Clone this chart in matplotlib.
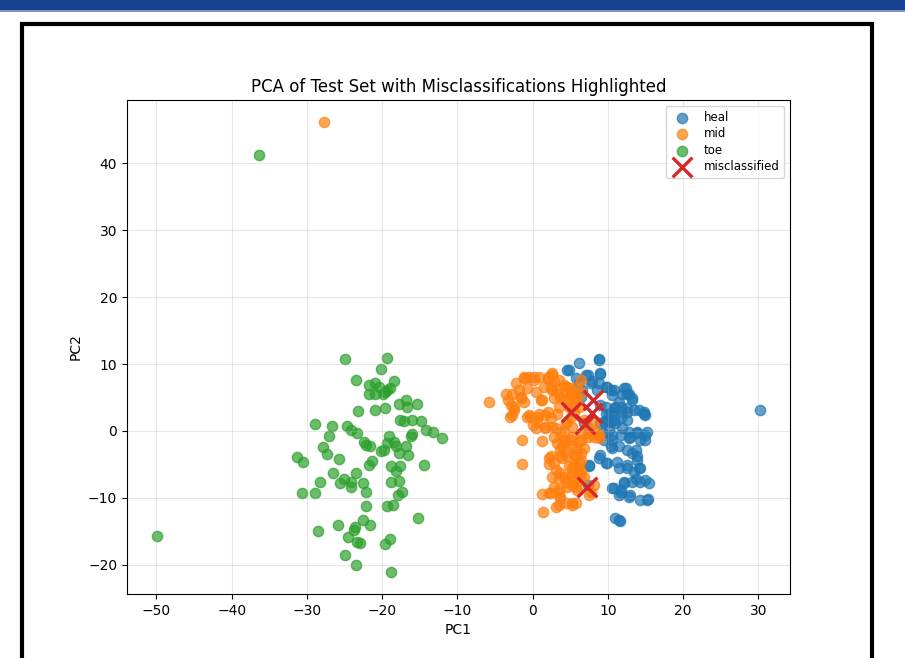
import numpy as np
import matplotlib
matplotlib.use("Agg")
import matplotlib.pyplot as plt
from matplotlib.patches import Rectangle

# heal (blue)
heal = [
    (4.6, 9.1), (6.2, 10.1), (8.8, 10.6), (9.0, 8.5), (5.7, 7.9), (7.05, 8.4), (7.9, 7.4),
    (8.8, 7.1), (9.7, 6.6), (10.4, 6.1), (10.6, 5.4), (12.1, 6.4), (12.6, 5.6), (11.9, 5.6),
    (13.2, 4.9), (11.5, 4.4), (11.0, 3.6), (11.7, 2.9), (12.6, 2.9), (13.45, 3.1), (14.1, 3.1),
    (15.0, 2.4), (14.8, 2.9), (10.1, 2.6), (9.7, 3.6), (9.0, 3.9), (9.5, 1.4), (10.4, 1.4),
    (11.0, 1.15), (11.9, 0.4), (12.8, -0.1), (13.9, -0.1), (15.2, -0.1), (10.1, 0.15),
    (9.3, -0.35), (6.2, 7.1), (6.6, 6.1), (5.3, 5.6), (6.4, 5.1), (8.6, 6.1),
    (10.6, -1.3), (10.6, -2.6), (8.8, -4.1), (9.7, -4.8), (11.25, -4.6), (11.5, -5.6),
    (12.6, -5.6), (13.2, -3.3), (13.7, -2.8), (13.9, -4.3), (14.1, -5.6), (14.3, -1.3),
    (12.8, -1.1), (7.5, -5.3), (13.7, -7.1), (15.0, -7.3), (13.2, -7.6), (12.1, -7.8),
    (10.6, -8.55), (11.7, -8.8), (11.5, -9.55), (13.0, -9.55), (14.3, -10.3), (15.2, -10.3),
    (11.0, -13.0), (11.5, -13.3), (15.0, -1.3),
    (4.8, 9.1), (8.8, 10.7), (9.0, 8.6), (7.3, 8.4), (7.7, 7.1), (9.9, 6.6), (10.8, 6.1),
    (12.35, 6.4), (12.8, 5.6), (13.2, 4.6), (14.8, 2.6), (12.6, 3.4), (11.7, 3.6), (11.0, 3.4),
    (10.6, 2.9), (9.7, 2.6), (9.9, 1.6), (9.0, 1.15), (10.8, 1.6), (11.7, 1.9), (12.6, 1.6),
    (13.9, -0.35), (15.0, -0.6), (13.0, -0.85), (11.7, -0.6), (10.6, -0.6), (9.5, -1.3),
    (10.4, -2.3), (11.5, -2.3), (12.6, -2.8), (13.9, -3.8), (9.0, -3.6), (9.9, -4.8),
    (12.6, -5.1), (13.45, -6.1), (14.3, -5.6), (7.5, -5.1), (12.1, -7.6), (10.8, -8.55),
    (14.3, -7.6), (15.45, -7.7), (11.7, -9.3), (12.8, -9.8), (15.3, -10.2), (11.6, -13.4),
    (6.8, 1.15), (7.3, -8.1), (30.2, 3.1),
]

# mid (orange)
mid = [
    (-5.8, 4.3), (-3.3, 4.6), (-3.6, 5.6), (-2.7, 5.6), (-2.9, 3.9), (-2.5, 3.1), (-3.0, 2.1),
    (-1.1, 7.9), (-0.5, 8.0), (0.2, 7.6), (0.85, 8.1), (2.0, 7.7), (2.6, 8.4), (2.8, 7.4),
    (-1.6, 4.9), (-1.1, 4.4), (-0.7, 6.4), (0.4, 5.9), (1.3, 4.6), (1.5, 6.6), (2.4, 6.4),
    (3.3, 6.1), (3.7, 5.1), (-0.7, 2.1), (0.0, 0.9), (0.6, 1.4), (1.7, 2.4), (2.4, 1.9),
    (3.3, 2.6), (1.7, 0.55), (2.6, 0.65), (3.7, -0.1), (-2.2, 7.1), (-1.8, 6.1),
    (-1.45, -1.4), (1.3, -1.5), (-1.35, -4.9), (2.2, -4.0), (2.8, -4.8), (2.6, -6.8),
    (3.5, -7.1), (4.2, -1.6), (3.7, -2.8), (3.95, -4.1), (1.3, -9.4), (2.4, -9.3),
    (3.5, -8.8), (3.7, -10.0), (3.1, -11.3), (1.4, -12.1), (4.4, -10.8), (3.5, -11.1),
    (4.6, 6.6), (5.3, 5.9), (5.7, 4.9), (4.8, 4.6), (5.5, 2.9), (4.6, 1.4), (5.3, 0.65),
    (7.3, -0.35), (8.8, -0.6),
    (5.3, -0.85), (6.2, -1.6), (6.8, -2.6), (5.5, -3.6), (6.4, -4.3), (5.3, -5.6),
    (6.2, -6.3), (5.3, -8.1), (5.9, -8.8), (7.5, -9.55), (5.3, -10.8), (8.15, -8.1),
    (5.05, -6.8),
    (4.2, -1.3), (5.05, -1.3), (4.4, -2.8), (5.9, -2.8), (5.7, -3.8), (4.8, -5.3),
    (5.5, -5.1), (4.2, -6.8), (5.3, -6.3), (6.2, -4.6), (6.4, -3.3), (6.4, -1.3),
    (7.3, -0.85), (8.15, -0.85), (4.6, -8.3), (5.7, -8.3), (3.7, -9.8), (5.7, -10.8),
    (5.3, -11.0), (2.8, -8.3), (3.5, -9.1), (2.2, -9.3), (7.7, -9.1), (5.05, 2.1),
    (4.4, 1.15), (6.4, -0.35), (4.2, -0.1), (3.1, 0.4), (1.7, 0.4), (0.6, 2.1),
    (-0.25, 2.1), (0.4, 0.4), (2.8, -0.85), (3.3, -1.8), (3.95, -2.3), (5.3, -2.3),
    (3.7, -3.8), (2.4, -3.8), (2.2, -4.9), (4.6, -3.8), (3.1, -5.8), (3.7, -6.3),
    (4.4, -7.6), (5.5, -7.3), (6.4, -7.3), (6.8, -6.8), (6.4, -6.1), (6.2, -5.3),
    (-1.1, 8.1), (0.2, 8.1), (2.0, 8.1), (2.6, 8.6), (3.5, 7.6), (4.2, 6.9), (4.8, 6.4),
    (5.7, 6.6), (6.4, 7.6), (6.4, 5.9), (3.5, 5.6), (2.6, 6.1), (1.1, 4.6), (2.8, 4.9),
    (4.2, 4.9), (5.05, 5.4), (5.9, 4.9), (5.5, 3.9), (4.8, 3.6), (3.5, 3.6), (2.0, 2.9),
    (0.85, 2.5), (-0.5, 2.4), (6.2, 3.6), (6.8, 1.6), (7.5, 0.4), (8.6, -0.35),
    (-1.6, 5.1), (-2.5, 3.6), (-2.7, 2.4), (8.15, 1.15), (8.8, -1.1),
    (-27.7, 46.1),
]

# toe (green)
toe = [
    (-25.0, 10.7), (-19.4, 10.85), (-20.1, 9.2), (-23.5, 7.6), (-21.7, 6.8), (-21.0, 7.1),
    (-21.8, 5.6), (-20.9, 5.6), (-20.4, 6.6), (-19.9, 5.6), (-19.3, 6.1), (-18.9, 6.4),
    (-18.4, 7.4), (-19.6, 5.9), (-17.7, 4.1), (-16.8, 4.6), (-16.7, 3.6), (-15.3, 4.1),
    (-23.2, 3.0), (-21.0, 3.2), (-19.6, 3.5), (-28.9, 1.0), (-26.7, 0.75), (-24.7, 0.75),
    (-24.1, 0.15), (-23.3, -0.35), (-27.0, -0.75), (-22.4, -1.6), (-22.1, -2.1),
    (-21.6, -2.3), (-27.8, -2.4), (-27.3, -3.4), (-20.2, -3.0), (-19.7, -2.8), (-19.3, -1.8),
    (-19.1, -0.7), (-18.4, -1.6), (-18.2, -2.3), (-17.6, 1.6), (-17.1, 1.5), (-16.0, 1.6),
    (-14.8, 1.5), (-14.2, 0.15), (-13.3, -0.1), (-12.1, -1.1), (-16.2, -0.7), (-16.0, -0.5),
    (-16.8, -2.3), (-17.7, -3.3), (-16.6, -3.6), (-31.3, -3.9),
    (-30.5, -4.6), (-25.7, -4.2), (-21.3, -4.5), (-21.8, -5.1), (-14.5, -5.1), (-18.8, -5.2),
    (-17.6, -5.3), (-18.2, -6.0), (-26.5, -6.3), (-25.1, -7.1), (-23.5, -6.3), (-24.1, -7.6),
    (-25.6, -7.7), (-24.1, -8.4), (-22.6, -7.7), (-22.1, -9.1), (-28.2, -7.6), (-30.7, -9.2),
    (-28.9, -9.2), (-18.8, -7.6), (-17.7, -7.5), (-17.3, -9.1), (-17.9, -9.6), (-18.6, -11.0),
    (-19.4, -11.2), (-22.2, -11.2), (-15.2, -13.0), (-28.5, -14.9), (-25.8, -14.1),
    (-22.6, -13.3), (-21.6, -14.0), (-23.6, -14.3), (-23.8, -14.8), (-24.6, -15.9),
    (-23.3, -16.6), (-22.9, -16.8), (-19.6, -16.9), (-18.9, -16.1), (-24.9, -18.5),
    (-23.5, -20.0), (-18.8, -21.0),
    (-36.3, 41.3), (-49.9, -15.7),
]

# misclassified
miss = [(5.1, 2.9), (8.05, 4.7), (7.85, 2.7), (6.9, 1.0), (7.2, -8.3)]

labels = ["heal", "mid", "toe"]
groups = [heal, mid, toe]

fig = plt.figure(figsize=(9.05, 6.58), dpi=100)

# screenshot framing: blue strip on top and black border
fig.add_artist(Rectangle((0, 1 - 10 / 658), 1, 10 / 658, transform=fig.transFigure,
                         facecolor="#173f8f", edgecolor="none"))
fig.add_artist(Rectangle((0, 1 - 11.5 / 658), 1, 1.5 / 658, transform=fig.transFigure,
                         facecolor="#7f95c0", edgecolor="none"))
fig.add_artist(Rectangle((22 / 905, -0.05), (872 - 22) / 905, 1.05 - 24.5 / 658,
                         transform=fig.transFigure, facecolor="none", edgecolor="black",
                         linewidth=3.0))

ax = fig.add_axes([127 / 905, 1 - 594 / 658, (790 - 127) / 905, (594 - 100) / 658])

for lab, g in zip(labels, groups):
    arr = np.array(g)
    ax.scatter(arr[:, 0], arr[:, 1], s=55, alpha=0.7, label=lab)

m = np.array(miss)
ax.scatter(m[:, 0], m[:, 1], marker="x", s=200, c="#d62728", linewidths=2.4,
           label="misclassified")

ax.set_title("PCA of Test Set with Misclassifications Highlighted")
ax.set_xlabel("PC1")
ax.set_ylabel("PC2")
ax.set_xticks([-50, -40, -30, -20, -10, 0, 10, 20, 30])
ax.set_yticks([-20, -10, 0, 10, 20, 30, 40])
ax.grid(True, alpha=0.3)
ax.legend(loc="upper right", fontsize=8.5, labelspacing=0.3)

fig.savefig("out.png", dpi=100)
